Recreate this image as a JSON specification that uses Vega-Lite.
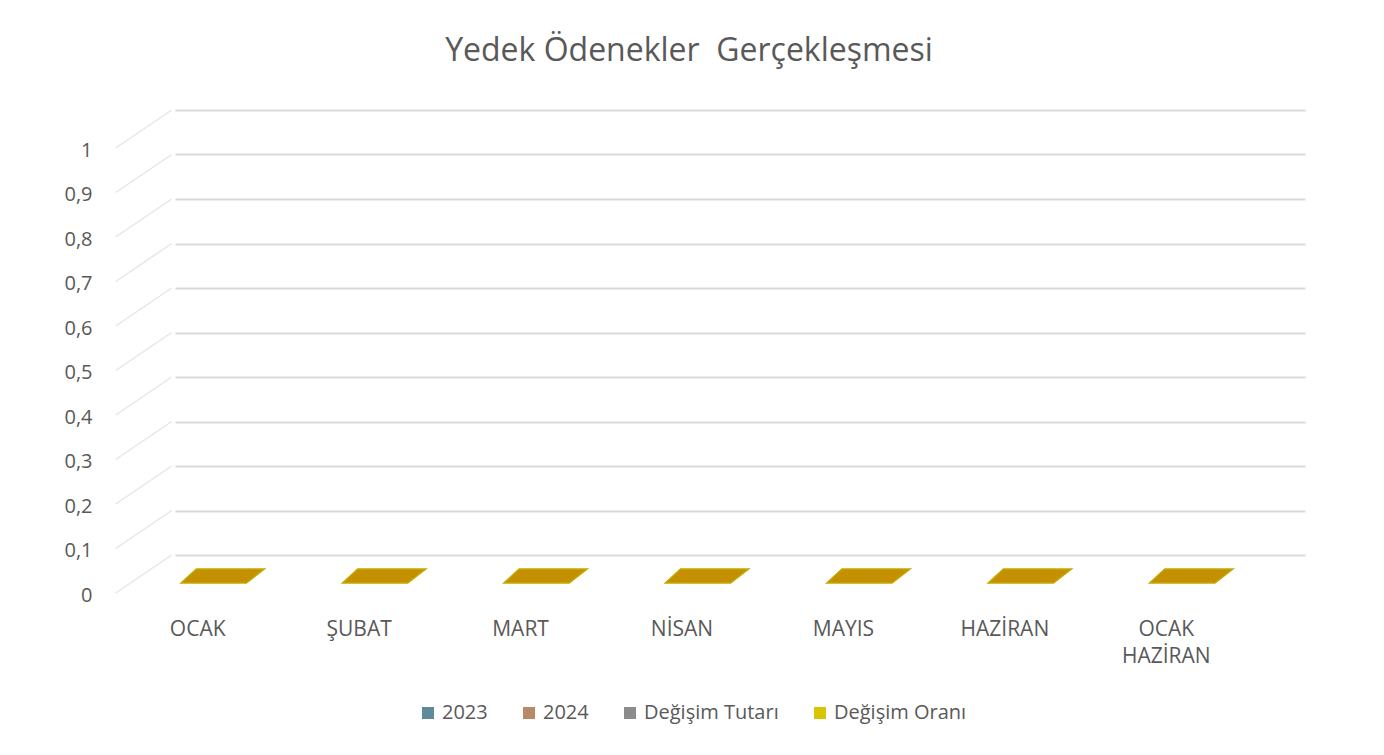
{
  "$schema": "https://vega.github.io/schema/vega-lite/v6.json",
  "autosize": {"type": "none"},
  "padding": {"left": 175, "top": 110, "right": 79, "bottom": 200},
  "width": 1130,
  "height": 445,
  "background": "white",
  "config": {
    "font": "Open Sans",
    "view": {"stroke": null}
  },
  "title": {
    "text": "Yedek Ödenekler\u00a0 Gerçekleşmesi",
    "fontSize": 32,
    "fontWeight": "normal",
    "color": "#595959",
    "font": "Open Sans",
    "anchor": "middle",
    "frame": "group",
    "dx": -51,
    "offset": 41
  },
  "datasets": {
    "main": [
      {"ay": "OCAK", "seri": "2023", "deger": 0},
      {"ay": "OCAK", "seri": "2024", "deger": 0},
      {"ay": "OCAK", "seri": "Değişim Tutarı", "deger": 0},
      {"ay": "OCAK", "seri": "Değişim Oranı", "deger": 0},
      {"ay": "ŞUBAT", "seri": "2023", "deger": 0},
      {"ay": "ŞUBAT", "seri": "2024", "deger": 0},
      {"ay": "ŞUBAT", "seri": "Değişim Tutarı", "deger": 0},
      {"ay": "ŞUBAT", "seri": "Değişim Oranı", "deger": 0},
      {"ay": "MART", "seri": "2023", "deger": 0},
      {"ay": "MART", "seri": "2024", "deger": 0},
      {"ay": "MART", "seri": "Değişim Tutarı", "deger": 0},
      {"ay": "MART", "seri": "Değişim Oranı", "deger": 0},
      {"ay": "NİSAN", "seri": "2023", "deger": 0},
      {"ay": "NİSAN", "seri": "2024", "deger": 0},
      {"ay": "NİSAN", "seri": "Değişim Tutarı", "deger": 0},
      {"ay": "NİSAN", "seri": "Değişim Oranı", "deger": 0},
      {"ay": "MAYIS", "seri": "2023", "deger": 0},
      {"ay": "MAYIS", "seri": "2024", "deger": 0},
      {"ay": "MAYIS", "seri": "Değişim Tutarı", "deger": 0},
      {"ay": "MAYIS", "seri": "Değişim Oranı", "deger": 0},
      {"ay": "HAZİRAN", "seri": "2023", "deger": 0},
      {"ay": "HAZİRAN", "seri": "2024", "deger": 0},
      {"ay": "HAZİRAN", "seri": "Değişim Tutarı", "deger": 0},
      {"ay": "HAZİRAN", "seri": "Değişim Oranı", "deger": 0},
      {"ay": "OCAK HAZİRAN", "seri": "2023", "deger": 0},
      {"ay": "OCAK HAZİRAN", "seri": "2024", "deger": 0},
      {"ay": "OCAK HAZİRAN", "seri": "Değişim Tutarı", "deger": 0},
      {"ay": "OCAK HAZİRAN", "seri": "Değişim Oranı", "deger": 0}
    ],
    "grid": [
      {"v": 0}, {"v": 0.1}, {"v": 0.2}, {"v": 0.3}, {"v": 0.4}, {"v": 0.5},
      {"v": 0.6}, {"v": 0.7}, {"v": 0.8}, {"v": 0.9}, {"v": 1}
    ]
  },
  "layer": [
    {
      "data": {"name": "grid"},
      "mark": {"type": "rule", "color": "#E6E6E6", "strokeWidth": 1.5, "xOffset": -84, "x2Offset": -140, "y2Offset": 38},
      "encoding": {
        "x": {"datum": "OCAK", "type": "nominal"},
        "x2": {"datum": "OCAK"},
        "y": {"field": "v", "type": "quantitative"},
        "y2": {"field": "v"}
      }
    },
    {
      "data": {"name": "main"},
      "mark": {"type": "point", "filled": true, "size": 0},
      "encoding": {
        "x": {
          "field": "ay",
          "type": "nominal",
          "sort": null,
          "scale": {"type": "band", "domain": ["OCAK", "ŞUBAT", "MART", "NİSAN", "MAYIS", "HAZİRAN", "OCAK HAZİRAN"], "paddingInner": 0, "paddingOuter": 0},
          "axis": {
            "title": null,
            "domain": false,
            "ticks": false,
            "grid": false,
            "labelAngle": 0,
            "labelAlign": "center",
            "labelBaseline": "top",
            "labelOffset": -58,
            "labelPadding": 63,
            "labelFontSize": 21,
            "labelColor": "#595959",
            "labelLineHeight": 27,
            "labelExpr": "datum.label == 'OCAK HAZİRAN' ? ['OCAK', 'HAZİRAN'] : datum.label"
          }
        },
        "y": {
          "field": "deger",
          "type": "quantitative",
          "scale": {"domain": [0, 1], "nice": false, "zero": true},
          "axis": {
            "title": null,
            "domain": false,
            "ticks": false,
            "grid": true,
            "gridColor": "#D9D9D9",
            "gridWidth": 2,
            "values": [0, 0.1, 0.2, 0.3, 0.4, 0.5, 0.6, 0.7, 0.8, 0.9, 1],
            "labelOffset": 40,
            "labelPadding": 83,
            "labelFontSize": 20,
            "labelColor": "#595959",
            "labelExpr": "replace(format(datum.value, '.1~f'), '.', ',')"
          }
        },
        "color": {
          "field": "seri",
          "type": "nominal",
          "scale": {
            "domain": ["2023", "2024", "Değişim Tutarı", "Değişim Oranı"],
            "range": ["#5E8A9C", "#B98A6A", "#8C8C8C", "#D8C400"]
          },
          "legend": {
            "title": null,
            "orient": "none",
            "direction": "horizontal",
            "legendX": 243,
            "legendY": 593,
            "symbolType": "square",
            "symbolSize": 144,
            "symbolOpacity": 1,
            "symbolStrokeWidth": 0,
            "labelFontSize": 20,
            "labelColor": "#595959",
            "labelOffset": 4,
            "columnPadding": 31,
            "encode": {
              "symbols": {"update": {"opacity": {"value": 1}, "size": {"value": 144}}}
            }
          }
        }
      }
    },
    {
      "data": {"name": "main"},
      "transform": [{"filter": "datum.seri == 'Değişim Oranı'"}],
      "mark": {
        "type": "point",
        "filled": true,
        "shape": "M -0.66 -0.175 L 1.04 -0.175 L 0.59 0.175 L -1.04 0.175 Z",
        "size": 6400,
        "fill": "#C49000",
        "stroke": "#C2A800",
        "strokeWidth": 1.5,
        "opacity": 1,
        "xOffset": -33,
        "yOffset": 21
      },
      "encoding": {
        "x": {"field": "ay", "type": "nominal", "sort": null},
        "y": {"field": "deger", "type": "quantitative"}
      }
    }
  ]
}
